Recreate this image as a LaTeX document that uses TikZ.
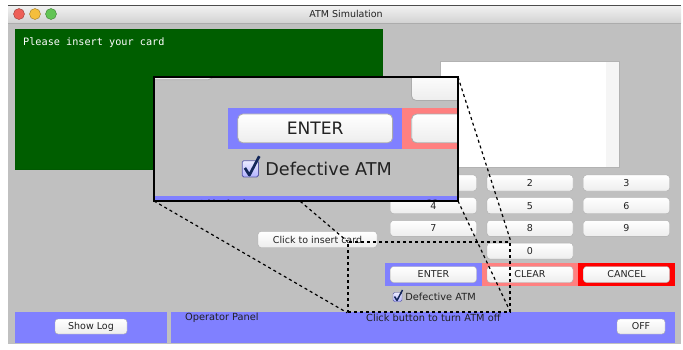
\documentclass[tikz,border=0pt]{standalone}
\usepackage{fontspec}
\setmainfont{DejaVu Sans}
\setmonofont{DejaVu Sans Mono}
\usepackage{xcolor}
\usepackage{tikz}
\usetikzlibrary{positioning,calc}

\definecolor{wingray}{RGB}{192,192,192}
\definecolor{screengreen}{RGB}{0,94,0}
\definecolor{panelblue}{RGB}{128,128,255}
\definecolor{panelpink}{RGB}{255,128,128}
\definecolor{panelred}{RGB}{255,0,0}
\definecolor{textdark}{RGB}{34,34,34}
\definecolor{ticknavy}{RGB}{20,40,90}
\definecolor{closered}{RGB}{237,95,87}
\definecolor{minyellow}{RGB}{245,190,60}
\definecolor{zoomgreen}{RGB}{98,196,85}

% window content, drawn once as is and once magnified
\newcommand{\atmwindow}{%
    % Display and log
    \node[screen] (display) at (15,29) {};
    \node[msg, anchor=north west] (prompt) at (23,37) {Please insert your card};
    \node[logbox] (log) at (440,61) {};
    \fill[gray!8] (606,61.5) rectangle (618.5,166.5);

    % Keypad
    \foreach \k/\c/\r in {1/0/0,2/1/0,3/2/0,4/0/1,5/1/1,6/2/1,7/0/2,8/1/2,9/2/2,0/1/3}
        \node[key] (key\k) at ({433.5+96.5*\c},{183+22.7*\r}) {\k};
    \node[key, minimum width=119pt] (insert) at (317.5,239.5) {Click to insert card};

    % Function keys
    \node[panel, fill=panelblue] (enterbg) at (433.5,274.5) {};
    \node[panel, fill=panelpink, right=0pt of enterbg] (clearbg) {};
    \node[panel, fill=panelred, right=0pt of clearbg] (cancelbg) {};
    \node[key] (enter) at (enterbg) {ENTER};
    \node[key] (clear) at (clearbg) {CLEAR};
    \node[key] (cancel) at (cancelbg) {CANCEL};
    \node[checkbox] (defbox) at (397.5,297) {};
    \draw[tick] (394.5,296.5) -- (397,300.5) -- (402.5,290);
    \node[uitext, right=2pt of defbox] (deflabel) {Defective ATM};

    % Operator panel
    \fill[panelblue] (15,312) rectangle (167,343);
    \fill[panelblue] (170.5,312) rectangle (675,343);
    \node[key, minimum width=72pt, minimum height=15pt] (showlog) at (91,326.5) {Show Log};
    \node[uitext, anchor=west] (optitle) at (184,318) {Operator Panel};
    \node[uitext, anchor=west] (ophint) at (365,318) {Click button to turn ATM off};
    \node[key, minimum width=48pt, minimum height=15pt] (off) at (641,326.5) {OFF};
}

\begin{document}
\begin{tikzpicture}[
    x=1pt, y=-1pt,
    screen/.style={rectangle, anchor=north west, fill=screengreen, draw=green!35!black, minimum width=367pt, minimum height=140pt, inner sep=0pt},
    msg/.style={text=white, font=\ttfamily\fontsize{10.2}{12}\selectfont, inner sep=0pt},
    logbox/.style={rectangle, anchor=north west, fill=white, draw=gray!60, minimum width=179pt, minimum height=106pt, inner sep=0pt},
    key/.style={rectangle, rounded corners=3pt, draw=gray!65, top color=white, bottom color=gray!14, minimum width=86pt, minimum height=16pt, inner sep=0pt, text=textdark, font=\fontsize{9.5}{10}\selectfont},
    panel/.style={rectangle, minimum width=96.5pt, minimum height=23pt, inner sep=0pt, outer sep=0pt},
    checkbox/.style={rectangle, rounded corners=1.5pt, draw=blue!30!gray, top color=blue!8, bottom color=blue!30, minimum size=9pt, inner sep=0pt},
    tick/.style={draw=ticknavy, line width=1.5pt, line join=round},
    uitext/.style={text=textdark, font=\fontsize{9.8}{11}\selectfont, inner sep=1pt},
    wintitle/.style={text=textdark, font=\fontsize{9.5}{11}\selectfont},
    light/.style={circle, minimum size=11pt, inner sep=0pt, draw=#1!65!black, fill=#1},
    srcbox/.style={rectangle, draw, dashed, line width=1.5pt, minimum width=162pt, minimum height=70pt, inner sep=0pt},
    spyline/.style={dashed, line width=1.2pt},
    insetframe/.style={line width=2pt}
]
    \useasboundingbox (0,0) rectangle (683,349);

    % Window and title bar
    \fill[wingray] (8,5) rectangle (681,344);
    \shade[top color=gray!10, bottom color=gray!35] (8,5) rectangle (681,23);
    \draw[gray!60!black] (8,5.5) -- (681,5.5);
    \draw[gray!65] (8,23) -- (681,23);
    \node[light=closered] (close) at (19,14) {};
    \node[light=minyellow] (minimize) at (35,14) {};
    \node[light=zoomgreen] (zoom) at (51,14) {};
    \node[wintitle] (title) at (346,14) {ATM Simulation};

    \atmwindow

    % Magnifier
    \node[srcbox] (src) at (429,277) {};
    \path node[rectangle, minimum width=304pt, minimum height=124pt, inner sep=0pt, outer sep=0pt] (inset) at (306,139) {};
    \draw[spyline] (inset.north west) -- (src.north west);
    \draw[spyline] (inset.north east) -- (src.north east);
    \draw[spyline] (inset.south west) -- (src.south west);
    \draw[spyline] (inset.south east) -- (src.south east);
    \begin{scope}
        \clip (inset.north west) rectangle (inset.south east);
        \fill[wingray] (inset.north west) rectangle (inset.south east);
        \begin{scope}[shift={(-465.2,-365.8)}, scale=1.8, transform shape, line width=0.8pt, name prefix=zoom-,
                      key/.append style={rounded corners=5pt}, tick/.style={draw=ticknavy, line width=2.7pt, line join=round}]
            \atmwindow
        \end{scope}
    \end{scope}
    \draw[insetframe] (inset.north west) rectangle (inset.south east);
\end{tikzpicture}
\end{document}
